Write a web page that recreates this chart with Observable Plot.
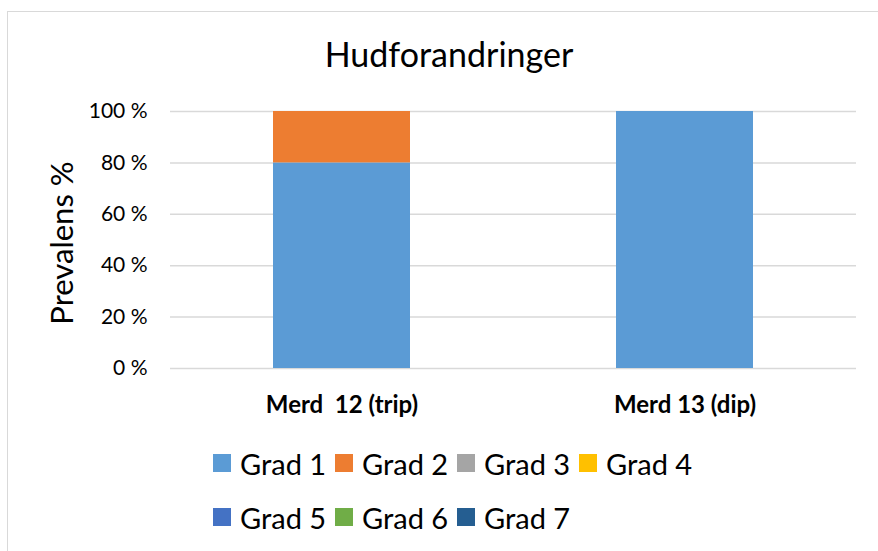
<!DOCTYPE html>
<html>
<head>
<meta charset="utf-8">
<script src="https://cdn.jsdelivr.net/npm/d3@7"></script>
<script src="https://cdn.jsdelivr.net/npm/@observablehq/plot@0.6"></script>
<style>
  body { margin: 0; background: #fff; font-family: Lato, "Open Sans", sans-serif; }
  #wrap { position: relative; width: 878px; height: 551px; overflow: hidden; }
  #frame { position: absolute; left: 7px; top: 11px; width: 900px; height: 600px; border: 1px solid #d9d9d9; box-sizing: border-box; }
  #chart { position: absolute; left: 0; top: 0; }
  #overlay { position: absolute; left: 0; top: 0; pointer-events: none; }
  #legend { position: absolute; left: 213px; top: 436px; width: 500px; display: flex; flex-wrap: wrap; }
  .item { width: 122px; height: 54px; display: flex; align-items: center; font-size: 29px; color: #000; white-space: nowrap; }
  .sw { width: 18px; height: 18px; margin-right: 9px; flex: none; }
</style>
</head>
<body>
<div id="wrap">
  <div id="frame"></div>
  <div id="chart"></div>
  <div id="legend"></div>
</div>
<script>
const titleText = "Hudforandringer";
const yLabelText = "Prevalens %";
const categories = ["Merd  12 (trip)", "Merd 13 (dip)"];
const grades = ["Grad 1", "Grad 2", "Grad 3", "Grad 4", "Grad 5", "Grad 6", "Grad 7"];
const colors = ["#5b9bd5", "#ed7d31", "#a5a5a5", "#ffc000", "#4472c4", "#70ad47", "#255e91"];
const grad1 = [80, 100];
const grad2 = [20, 0];
const grad3 = [0, 0];
const grad4 = [0, 0];
const grad5 = [0, 0];
const grad6 = [0, 0];
const grad7 = [0, 0];
const yTicks = [0, 20, 40, 60, 80, 100];

const series = [grad1, grad2, grad3, grad4, grad5, grad6, grad7];
const data = [];
grades.forEach((g, gi) => {
  categories.forEach((c, ci) => {
    data.push({cat: c, grade: g, gi, value: series[gi][ci]});
  });
});

const plot = Plot.plot({
  width: 878,
  height: 440,
  marginLeft: 170,
  marginRight: 22,
  marginTop: 111,
  marginBottom: 72,
  style: { fontFamily: "Lato, 'Open Sans', sans-serif", background: "transparent", overflow: "visible" },
  x: { domain: categories, paddingInner: 0.6, paddingOuter: 0.3, label: null },
  y: { domain: [0, 100], label: null },
  color: { domain: grades, range: colors },
  marks: [
    Plot.ruleY(yTicks, { stroke: "#d9d9d9", strokeWidth: 1.5 }),
    Plot.barY(data, Plot.stackY({ order: "gi" }, { x: "cat", y: "value", fill: "grade" })),
    Plot.axisY({ ticks: yTicks, tickSize: 0, tickPadding: 23, tickFormat: d => d + " %", fontSize: 21, fill: "#000", label: null }),
    Plot.axisX({ tickSize: 0, tickPadding: 27, fontSize: 24, fontWeight: "bold", fill: "#000", label: null })
  ]
});
plot.querySelectorAll("text").forEach(t => t.style.whiteSpace = "pre");
document.getElementById("chart").appendChild(plot);

// title and y-axis label
const ov = d3.select("#wrap").append("svg")
  .attr("id", "overlay").attr("width", 878).attr("height", 551)
  .style("font-family", "Lato, 'Open Sans', sans-serif");
ov.append("text").attr("x", 449).attr("y", 67).attr("text-anchor", "middle")
  .attr("font-size", 34).attr("fill", "#000").text(titleText);
ov.append("text").attr("transform", "translate(73,243) rotate(-90)").attr("text-anchor", "middle")
  .attr("font-size", 31).attr("fill", "#000").text(yLabelText);

const legend = document.getElementById("legend");
grades.forEach((g, i) => {
  const it = document.createElement("div");
  it.className = "item";
  const sw = document.createElement("div");
  sw.className = "sw";
  sw.style.background = colors[i];
  const tx = document.createElement("span");
  tx.textContent = g;
  it.appendChild(sw);
  it.appendChild(tx);
  legend.appendChild(it);
});
</script>
</body>
</html>
